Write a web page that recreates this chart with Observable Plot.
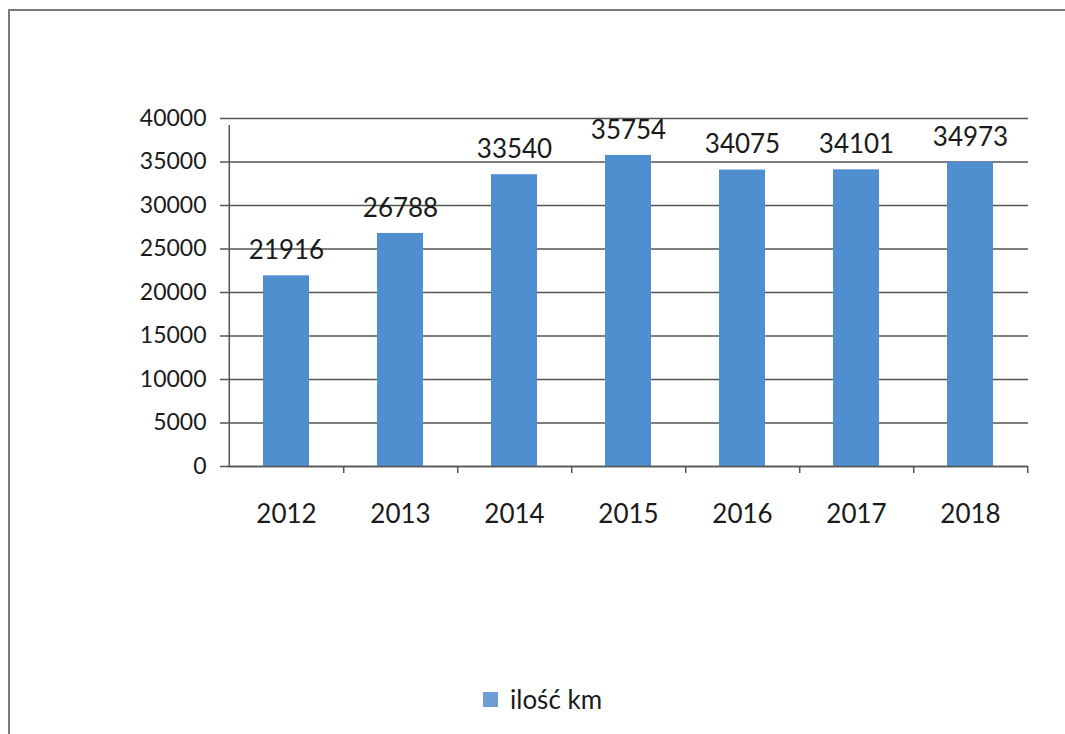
<!DOCTYPE html>
<html>
<head>
<meta charset="utf-8">
<script src="https://cdn.jsdelivr.net/npm/d3@7"></script>
<script src="https://cdn.jsdelivr.net/npm/@observablehq/plot@0.6"></script>
<style>
  html, body { margin: 0; padding: 0; background: #fff; }
  #wrap { position: relative; width: 1065px; height: 734px; overflow: hidden; font-family: Lato, "Open Sans", sans-serif; }
  #frame { position: absolute; left: 8px; top: 9px; width: 1100px; height: 800px; border-left: 2px solid #7a7a7a; border-top: 2px solid #7a7a7a; }
  #chart { position: absolute; left: 0; top: 0; }
  #legend { position: absolute; left: 483px; top: 683px; display: flex; align-items: center; font-size: 26px; color: #1a1a1a; }
  #legend .sw { width: 15px; height: 15px; background: #6d9ed8; margin-right: 12px; }
</style>
</head>
<body>
<div id="wrap">
  <div id="frame"></div>
  <div id="chart"></div>
  <div id="legend"><span class="sw"></span><span>ilość km</span></div>
</div>
<script>
const years = ["2012", "2013", "2014", "2015", "2016", "2017", "2018"];
const km = [21916, 26788, 33540, 35754, 34075, 34101, 34973];
const yTicks = [0, 5000, 10000, 15000, 20000, 25000, 30000, 35000, 40000];
const seriesName = "ilość km";

const data = years.map((y, i) => ({year: y, value: km[i]}));

const W = 1065, H = 734;
const mL = 227, mR = 37, mT = 118, mB = 268;
const step = (W - mL - mR) / years.length;
const gridColor = "#555";
const barColor = "#4f8fd0";
const font = "Lato, 'Open Sans', sans-serif";

const chart = Plot.plot({
  width: W,
  height: H,
  marginLeft: mL,
  marginRight: mR,
  marginTop: mT,
  marginBottom: mB,
  style: {fontFamily: font, color: "#1a1a1a", background: "transparent"},
  x: {domain: years, paddingInner: 0.6, paddingOuter: 0.3},
  y: {domain: [0, 40000]},
  marks: [
    Plot.gridY(yTicks, {stroke: gridColor, strokeOpacity: 1, strokeWidth: 1.5}),
    Plot.axisY(yTicks, {tickSize: 7, tickPadding: 14, fontSize: 23, label: null, stroke: gridColor, strokeWidth: 1.5, tickFormat: d => String(d)}),
    Plot.ruleX([0], {x: () => years[0], dx: -step / 2, y1: 0, y2: 40000, stroke: gridColor, strokeWidth: 1.5, insetBottom: -7}),
    Plot.axisX(years, {tickSize: 7, dx: step / 2, tickFormat: () => "", label: null, stroke: gridColor, strokeWidth: 1.5}),
    Plot.axisX(years, {tickSize: 0, tickPadding: 38, fontSize: 26, label: null}),
    Plot.barY(data, {x: "year", y: "value", fill: barColor}),
    Plot.ruleY([0], {stroke: gridColor, strokeWidth: 1.5}),
    Plot.text(data, {x: "year", y: "value", text: d => String(d.value), dy: -25, fontSize: 26, fill: "#1a1a1a"})
  ]
});
document.getElementById("chart").appendChild(chart);
</script>
</body>
</html>
